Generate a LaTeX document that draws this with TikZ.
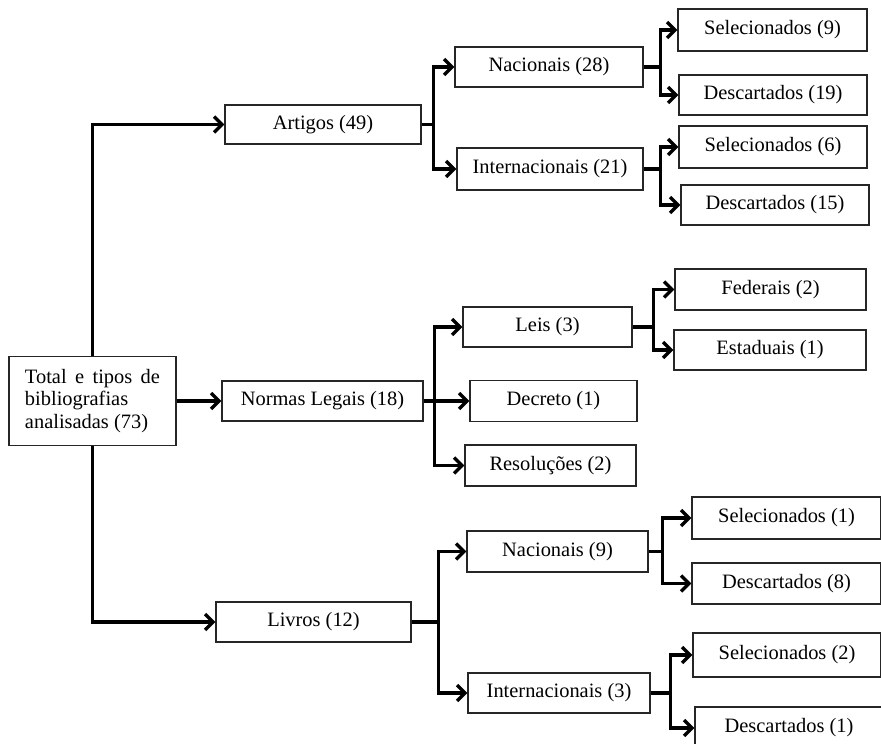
\documentclass[tikz,border=0pt]{standalone}
\usepackage{fontspec}
\setmainfont{Liberation Serif}
\usetikzlibrary{arrows.meta}

\tikzset{
  bx/.style={draw=black!85, line width=1.3bp, inner sep=0pt,
    font=\fontsize{20.5}{23}\selectfont},
  lnk/.style={line width=3.3bp},
  conn/.style={line width=3.3bp, -{Straight Barb[length=8bp,width=16bp]}}
}

\begin{document}
\begin{tikzpicture}[x=1bp,y=-1bp]
\useasboundingbox (0,0) rectangle (881,744);
\clip (0,0) rectangle (881,744);

% root and first level
\path (92.5,401) node (tot) [bx,minimum width=167bp,minimum height=89bp,
    align=left]
    {\makebox[135bp][s]{Total e tipos de}\\bibliografias\\analisadas (73)}
  (323,124.5) node (art) [bx,minimum width=196bp,minimum height=39bp]
    {Artigos (49)}
  (322.5,401) node (nor) [bx,minimum width=201bp,minimum height=40bp]
    {Normas Legais (18)}
  (313.5,622) node (liv) [bx,minimum width=195bp,minimum height=40bp]
    {Livros (12)};

% second level
\path (549,67) node (anac) [bx,minimum width=188bp,minimum height=40bp]
    {Nacionais (28)}
  (550,169) node (aint) [bx,minimum width=186bp,minimum height=42bp]
    {Internacionais (21)}
  (547.5,327) node (leis) [bx,minimum width=169bp,minimum height=40bp]
    {Leis (3)}
  (553.5,401) node (dec) [bx,minimum width=167bp,minimum height=41bp]
    {Decreto (1)}
  (550.5,465.5) node (res) [bx,minimum width=171bp,minimum height=41bp]
    {Resoluções (2)}
  (557.5,551.5) node (lnac) [bx,minimum width=181bp,minimum height=41bp]
    {Nacionais (9)}
  (559,693) node (lint) [bx,minimum width=182bp,minimum height=40bp]
    {Internacionais (3)};

% third level
\path (772.5,30) node (asel) [bx,minimum width=189bp,minimum height=42bp]
    {Selecionados (9)}
  (773,95) node (ades) [bx,minimum width=188bp,minimum height=40bp]
    {Descartados (19)}
  (773,147) node (isel) [bx,minimum width=188bp,minimum height=42bp]
    {Selecionados (6)}
  (775,205) node (ides) [bx,minimum width=188bp,minimum height=40bp]
    {Descartados (15)}
  (770.5,289.5) node (fed) [bx,minimum width=191bp,minimum height=41bp]
    {Federais (2)}
  (770,350) node (est) [bx,minimum width=192bp,minimum height=40bp]
    {Estaduais (1)}
  (786.5,518) node (nsel) [bx,minimum width=189bp,minimum height=42bp]
    {Selecionados (1)}
  (786.5,583.5) node (ndes) [bx,minimum width=189bp,minimum height=41bp]
    {Descartados (8)}
  (787,655) node (lsel) [bx,minimum width=188bp,minimum height=44bp]
    {Selecionados (2)}
  (789,728) node (ldes) [bx,minimum width=188bp,minimum height=42bp]
    {Descartados (1)};

% from the root
\draw[conn] (tot.north) |- (art.west);
\draw[conn] (tot) -- (nor);
\draw[conn] (tot.south) |- (liv.west);

% Artigos
\path (art.east) +(12,0) coordinate (artx);
\draw[lnk] (art.east) -- (artx);
\draw[conn] (artx) |- (anac.west);
\draw[conn] (artx) |- (aint.west);
\path (anac.east) +(17,0) coordinate (anacx);
\draw[lnk] (anac.east) -- (anacx);
\draw[conn] (anacx) |- (asel.west);
\draw[conn] (anacx) |- (ades.west);
\path (aint.east) +(17,0) coordinate (aintx);
\draw[lnk] (aint.east) -- (aintx);
\draw[conn] (aintx) |- (isel.west);
\draw[conn] (aintx) |- (ides.west);

% Normas Legais
\path (nor.east) +(11,0) coordinate (norx);
\draw[conn] (nor) -- (dec);
\draw[conn] (norx) |- (leis.west);
\draw[conn] (norx) |- (res.west);
\path (leis.east) +(21,0) coordinate (leisx);
\draw[lnk] (leis.east) -- (leisx);
\draw[conn] (leisx) |- (fed.west);
\draw[conn] (leisx) |- (est.west);

% Livros
\path (liv.east) +(27,0) coordinate (livx);
\draw[lnk] (liv.east) -- (livx);
\draw[conn] (livx) |- (lnac.west);
\draw[conn] (livx) |- (lint.west);
\path (lnac.east) +(14,0) coordinate (lnacx);
\draw[lnk] (lnac.east) -- (lnacx);
\draw[conn] (lnacx) |- (nsel.west);
\draw[conn] (lnacx) |- (ndes.west);
\path (lint.east) +(20,0) coordinate (lintx);
\draw[lnk] (lint.east) -- (lintx);
\draw[conn] (lintx) |- (lsel.west);
\draw[conn] (lintx) |- (ldes.west);
\end{tikzpicture}
\end{document}
